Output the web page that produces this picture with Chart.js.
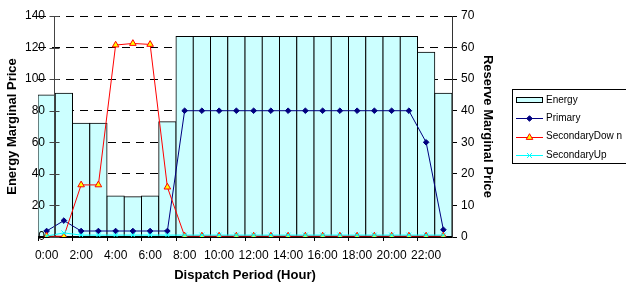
<!DOCTYPE html>
<html lang="en">
<head>
<meta charset="UTF-8">
<title>Energy and Reserve Marginal Price</title>
<script src="https://cdn.jsdelivr.net/npm/chart.js"></script>
<style>
  html, body { margin: 0; padding: 0; background: #fff; }
  #wrap { width: 626px; height: 285px; }
</style>
</head>
<body>
<div id="wrap"><canvas id="chart" width="626" height="285"></canvas></div>
<script>
// dispatch periods (hours)
const hours = ['0:00', '1:00', '2:00', '3:00', '4:00', '5:00', '6:00', '7:00',
               '8:00', '9:00', '10:00', '11:00', '12:00', '13:00', '14:00', '15:00',
               '16:00', '17:00', '18:00', '19:00', '20:00', '21:00', '22:00', '23:00'];

// energy marginal price (left axis)
const energy = [90, 91, 72, 72, 26, 25.5, 26, 73,
                127, 127, 127, 127, 127, 127, 127, 127,
                127, 127, 127, 127, 127, 127, 117, 91];

// reserve marginal prices (right axis)
const primary = [1.9, 5.2, 1.9, 1.9, 1.9, 1.9, 1.9, 1.9,
                 40, 40, 40, 40, 40, 40, 40, 40,
                 40, 40, 40, 40, 40, 40, 30, 2.3];
const secondaryDown = [0.3, 0.2, 16.5, 16.5, 60.8, 61.3, 61, 15.8,
                       0.3, 0.3, 0.3, 0.3, 0.3, 0.3, 0.3, 0.3,
                       0.3, 0.3, 0.3, 0.3, 0.3, 0.3, 0.3, 0.3];
const secondaryUp = [0.3, 1.3, 0.6, 0.6, 0.6, 0.6, 0.6, 0.6,
                     0.6, 0.6, 0.6, 0.6, 0.6, 0.6, 0.6, 0.6,
                     0.6, 0.6, 0.6, 0.6, 0.6, 0.6, 0.6, 0.6];

const FONT = "'Liberation Sans', Arial, Helvetica, sans-serif";
Chart.defaults.font.family = FONT;
Chart.defaults.color = '#000';

// left value axis sits on the boundary between the first two periods,
// its labels overlap the first bar (drawn here so they are not clipped)
const leftAxisLine = {
    id: 'leftAxisLine',
    afterDatasetsDraw(chart) {
        const {ctx, chartArea, scales} = chart;
        const x = Math.round((scales.x.getPixelForValue(0) + scales.x.getPixelForValue(1)) / 2) - 0.5;
        ctx.save();
        ctx.strokeStyle = '#444';
        ctx.lineWidth = 1;
        ctx.beginPath();
        ctx.moveTo(x, chartArea.top);
        ctx.lineTo(x, chartArea.bottom);
        scales.y.ticks.forEach(t => {
            const y = Math.round(scales.y.getPixelForValue(t.value)) + 0.5;
            ctx.moveTo(x - 5, y);
            ctx.lineTo(x + 5, y);
        });
        ctx.stroke();
        ctx.font = '12px ' + FONT;
        ctx.fillStyle = '#000';
        ctx.textAlign = 'right';
        ctx.textBaseline = 'middle';
        scales.y.ticks.forEach(t => {
            ctx.fillText(t.label, chartArea.left + 7, scales.y.getPixelForValue(t.value));
        });
        ctx.restore();
    }
};

// boxed legend with line + marker samples
const boxLegend = {
    id: 'boxLegend',
    afterDraw(chart) {
        const ctx = chart.ctx;
        const left = Math.round(chart.scales.y1.right) + 15;
        const top = 89;
        ctx.save();
        ctx.strokeStyle = '#000';
        ctx.lineWidth = 1;
        ctx.strokeRect(left + 0.5, top + 0.5, 140, 74);
        ctx.font = '10px ' + FONT;
        ctx.textBaseline = 'middle';
        chart.data.datasets.forEach((ds, i) => {
            const y = top + 11 + i * 18.3;
            const x0 = left + 4, x1 = left + 31, xm = (x0 + x1) / 2;
            if (ds.type === 'bar') {
                ctx.fillStyle = ds.backgroundColor;
                ctx.fillRect(x0, Math.round(y) - 3, x1 - x0, 6);
                ctx.strokeStyle = '#000';
                ctx.strokeRect(x0 + 0.5, Math.round(y) - 2.5, x1 - x0 - 1, 5);
            } else {
                ctx.strokeStyle = ds.borderColor;
                ctx.lineWidth = 1;
                ctx.beginPath();
                ctx.moveTo(x0, Math.round(y) + 0.5);
                ctx.lineTo(x1, Math.round(y) + 0.5);
                ctx.stroke();
                ctx.fillStyle = ds.pointBackgroundColor;
                ctx.strokeStyle = ds.pointBorderColor;
                ctx.lineWidth = ds.pointBorderWidth;
                Chart.helpers.drawPoint(ctx, {
                    pointStyle: ds.pointStyle, radius: ds.pointRadius,
                    borderWidth: ds.pointBorderWidth, rotation: 0
                }, xm, Math.round(y) + 0.5);
            }
            ctx.fillStyle = '#000';
            ctx.fillText(ds.label, x1 + 3, y);
        });
        ctx.restore();
    }
};

const ctx = document.getElementById('chart').getContext('2d');
new Chart(ctx, {
    type: 'bar',
    data: {
        labels: hours,
        datasets: [
            {
                type: 'bar',
                label: 'Energy',
                data: energy,
                yAxisID: 'y',
                backgroundColor: '#ccffff',
                borderColor: '#000',
                borderWidth: 1,
                borderSkipped: false,
                inflateAmount: 0.5,
                barPercentage: 1,
                categoryPercentage: 1,
                order: 4
            },
            {
                type: 'line',
                label: 'Primary',
                data: primary,
                yAxisID: 'y1',
                borderColor: '#000080',
                borderWidth: 1,
                pointStyle: 'rectRot',
                pointRadius: 2.8,
                pointBackgroundColor: '#000080',
                pointBorderColor: '#000080',
                pointBorderWidth: 1,
                order: 3
            },
            {
                type: 'line',
                label: 'SecondaryDow n',
                data: secondaryDown,
                yAxisID: 'y1',
                borderColor: '#ff0000',
                borderWidth: 1,
                pointStyle: 'triangle',
                pointRadius: 3.8,
                pointBackgroundColor: '#ffff00',
                pointBorderColor: '#ff0000',
                pointBorderWidth: 1,
                order: 2
            },
            {
                type: 'line',
                label: 'SecondaryUp',
                data: secondaryUp,
                yAxisID: 'y1',
                borderColor: '#00ffff',
                borderWidth: 1,
                pointStyle: 'crossRot',
                pointRadius: 3.5,
                pointBackgroundColor: '#00ffff',
                pointBorderColor: '#00ffff',
                pointBorderWidth: 1,
                order: 1
            }
        ]
    },
    options: {
        responsive: false,
        animation: false,
        devicePixelRatio: 1,
        layout: { padding: { top: 16, right: 129, left: 0, bottom: 0 } },
        plugins: {
            legend: { display: false },
            tooltip: { enabled: false }
        },
        scales: {
            x: {
                offset: true,
                afterFit: s => { s.height = 48; },
                grid: {
                    offset: true,
                    drawOnChartArea: false,
                    tickLength: 4,
                    tickColor: c => (c.index % 2 === 0 ? '#000' : 'rgba(0,0,0,0)')
                },
                border: { color: '#000', width: 1 },
                ticks: {
                    autoSkip: false,
                    maxRotation: 0,
                    padding: 7,
                    font: { size: 12 },
                    callback: function (v, i) { return i % 2 === 0 ? this.getLabelForValue(v) : ''; }
                },
                title: {
                    display: true,
                    text: 'Dispatch Period (Hour)',
                    font: { size: 13, weight: 'bold' },
                    padding: { top: 0, bottom: 2 }
                }
            },
            y: {
                position: 'left',
                min: 0,
                max: 140,
                afterFit: s => { s.width = 38; },
                grid: { color: '#000', lineWidth: 1, drawTicks: false },
                border: { display: false, dash: [8, 6] },
                ticks: { stepSize: 20, display: false },
                title: {
                    display: true,
                    text: 'Energy Marginal Price',
                    font: { size: 13, weight: 'bold' },
                    padding: { top: 5, bottom: 0 }
                }
            },
            y1: {
                position: 'right',
                min: 0,
                max: 70,
                afterFit: s => { s.width = 45; },
                grid: { drawOnChartArea: false, tickLength: 5, tickColor: '#000' },
                border: { color: '#333', width: 1 },
                ticks: { stepSize: 10, padding: 4, font: { size: 12 } },
                title: {
                    display: true,
                    text: 'Reserve Marginal Price',
                    font: { size: 13, weight: 'bold' },
                    padding: { top: 2, bottom: 0 }
                }
            }
        }
    },
    plugins: [leftAxisLine, boxLegend]
});
</script>
</body>
</html>
